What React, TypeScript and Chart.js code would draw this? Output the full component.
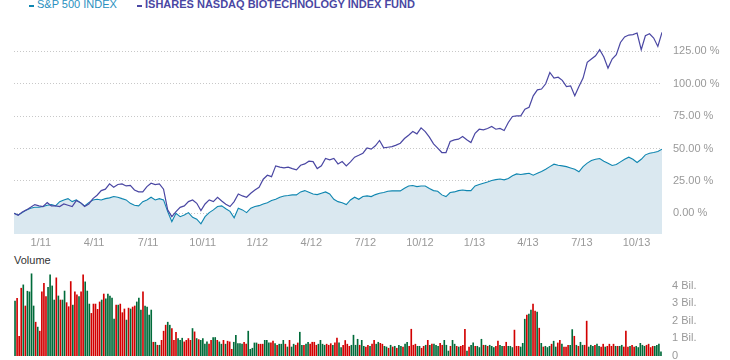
import React, { useEffect, useRef } from "react";
import { Chart, registerables } from "chart.js";
Chart.register(...registerables);

// Weekly samples starting 2010-11-17 (percent change)
const START_DATE = "2010-11-17";
const WEEK_DAYS = 7;

const spx = [
  0, -1.3, 0.5, 2.6, 3.9, 4.6, 4.6, 5.2, 6.2, 6.7,
  5.7, 9, 10.3, 11.3, 9, 10.3, 8.2, 5.7, 8.2, 10.3,
  10.8, 10.3, 11.3, 11.9, 12.9, 12.4, 11.3, 10.3, 7.7, 6.2,
  5.7, 9, 10.3, 12.4, 10.3, 11.3, 10.3, 1.3, -6.4, 0,
  -2.6, -1.3, 0.5, -3.1, -4.6, -8.2, -2.6, 0.5, 2.6, 5.2,
  5.7, 3.5, 1.5, -3.5, 3.9, 2.6, 0.5, 3.9, 5.2, 5.9,
  7.2, 8.2, 9.8, 10.8, 12.4, 13.4, 13.7, 14.2, 14.2, 16.5,
  17.5, 16.2, 14.9, 14.4, 15.5, 16.5, 14.9, 10.8, 9, 8.2,
  6.7, 10.3, 12.4, 10.8, 12.9, 13.4, 12.9, 14.4, 15.5, 16,
  17, 17.3, 17.3, 17.3, 19.3, 21.1, 21.4, 20.6, 21.1, 21.1,
  19.1, 17.5, 17, 14.2, 12.9, 16, 16.5, 17.5, 18, 17.5,
  17.5, 21.1, 22.2, 23.2, 24.2, 25.3, 26, 26.5, 25.8, 26.8,
  28.9, 30.4, 29.9, 30.4, 30.9, 29.4, 30.9, 32.2, 34, 36,
  37.9, 37.1, 36.6, 36, 35, 34, 32, 36, 38.7, 40.7,
  41.7, 42.3, 40.2, 38.7, 36.9, 37.6, 39.7, 41.7, 43.3, 41.7,
  39.2, 41.7, 45.1, 46.4, 46.9, 47.7, 49.5
];

const bio = [
  0, -1.5, 1, 2.6, 4.6, 6.7, 5.7, 5.2, 8.2, 5.7,
  5.7, 5.2, 7.2, 6.2, 5.2, 9.8, 8.2, 5.2, 7.2, 11.3,
  13.9, 17.5, 18.6, 22.7, 20.1, 22.2, 22.7, 21.1, 21.6, 18,
  16.5, 16.5, 20.6, 23.2, 22.2, 22.7, 18.6, 2.6, -2.6, 1.3,
  4.6, 5.7, 9, 10.3, 7.7, 2.1, 7.2, 10.3, 9, 12.4,
  9.5, 7, 5.2, 9, 14.9, 13.4, 12.4, 15.5, 18, 20.1,
  26.3, 29.4, 28.3, 36.6, 35.6, 35, 35.6, 34.5, 33.5, 37.1,
  38.1, 40.2, 39.9, 34.5, 36.6, 42.3, 41.2, 42.3, 38.1, 39.9,
  36.6, 39.7, 43.3, 44.8, 46.4, 50.5, 49.5, 52.1, 56.2, 50.5,
  51, 51.5, 52.6, 54.1, 57.7, 60.3, 63.1, 61.3, 66, 63.1,
  58.8, 53.6, 50.3, 46.9, 46.9, 55.4, 56.7, 57.2, 59.3, 56.7,
  54.6, 61.8, 64.9, 64.4, 65.5, 67, 64.9, 65.5, 63.9, 70.1,
  74.7, 75.2, 75.2, 80.4, 81.9, 90.7, 95.3, 95.9, 100, 108.7,
  104.4, 105.1, 102.6, 97.9, 98.4, 90.7, 97.9, 104.4, 116.5, 119.1,
  121.6, 126.3, 120.6, 112.1, 119.1, 122.4, 131.9, 136.1, 137.6, 137.9,
  139.2, 126.3, 137.1, 138.6, 135.3, 128.8, 139.7
];

// Volume in billions, two bars per week
const volume = [
  3.14, 3.3, 1.14, 3.87, 4.06, 2.86, 3.7, 3.66, 4.69, 2.86,
  1.94, 1.66, 1.43, 3.66, 4.15, 3.39, 3.92, 4.63, 4.0, 3.2,
  4.46, 3.43, 3.2, 3.2, 3.71, 3.05, 2.82, 4.25, 2.91, 3.66,
  3.49, 3.39, 3.66, 4.63, 4.23, 3.71, 2.97, 2.44, 2.97, 2.97,
  2.67, 3.09, 3.2, 3.54, 3.26, 3.54, 3.43, 3.31, 2.11, 2.91,
  2.91, 2.97, 2.48, 2.69, 2.06, 2.74, 2.69, 2.8, 2.86, 3.09,
  3.31, 2.63, 3.66, 2.86, 2.8, 2.34, 2.63, 0.8, 0.8, 0.63,
  0.63, 0.91, 1.43, 1.77, 1.94, 1.77, 1.58, 0.91, 1.37, 1.01,
  0.91, 1.03, 0.82, 0.91, 1.01, 0.91, 1.58, 1.39, 1.01, 0.95,
  0.91, 1.01, 0.69, 0.82, 0.69, 0.91, 1.07, 1.07, 0.91, 0.82,
  0.69, 0.91, 0.69, 0.86, 0.82, 0.4, 0.8, 1.2, 0.72, 0.72,
  0.69, 0.8, 0.69, 1.43, 0.4, 0.46, 0.76, 0.76, 0.69, 0.69,
  0.69, 0.91, 0.91, 0.76, 0.76, 0.86, 0.72, 0.63, 0.69, 0.69,
  0.91, 0.69, 0.53, 0.91, 0.53, 0.69, 0.63, 0.76, 1.37, 0.63,
  0.63, 0.69, 0.8, 0.69, 0.8, 0.8, 0.63, 0.69, 0.91, 0.69,
  0.63, 0.69, 0.63, 0.72, 0.63, 0.76, 1.03, 0.76, 0.5, 0.63,
  0.9, 0.69, 0.57, 0.63, 1.2, 0.63, 0.97, 0.63, 0.91, 0.57,
  0.53, 0.63, 0.57, 0.69, 0.91, 0.69, 0.8, 0.74, 0.69, 0.57,
  0.53, 0.46, 0.63, 0.53, 0.57, 0.46, 0.63, 0.57, 0.53, 0.69,
  0.8, 0.57, 1.54, 0.63, 0.69, 0.57, 0.57, 0.46, 0.57, 0.63,
  0.91, 0.63, 0.69, 0.69, 0.63, 0.57, 0.74, 0.63, 0.91, 0.63,
  0.3, 0.57, 0.91, 0.69, 0.57, 0.53, 0.57, 0.63, 1.54, 0.3,
  0.53, 0.63, 0.76, 0.57, 0.57, 0.5, 0.97, 0.63, 0.63, 0.57,
  0.63, 0.57, 0.5, 0.57, 0.86, 0.63, 0.57, 0.57, 0.8, 0.57,
  0.57, 0.5, 1.49, 0.57, 0.57, 0.53, 0.74, 2.11, 2.34, 2.4,
  2.63, 2.97, 2.57, 2.51, 1.6, 0.74, 0.53, 0.57, 0.5, 0.57,
  0.69, 0.86, 0.53, 0.76, 0.91, 0.69, 0.53, 0.53, 0.63, 0.63,
  1.52, 1.14, 0.63, 0.57, 0.8, 0.63, 0.63, 2.0, 0.53, 0.63,
  0.57, 0.63, 0.69, 0.57, 0.53, 0.69, 0.53, 0.57, 0.69, 0.57,
  0.69, 0.57, 0.57, 0.57, 0.63, 0.53, 1.43, 0.53, 0.57, 0.63,
  0.53, 0.57, 0.5, 0.74, 0.63, 0.57, 0.63, 0.69, 0.5, 0.57,
  0.57, 0.63, 0.69, 0.25
];

// g = up day (green), r = down day (red)
const volumeDir = (
  "grrrgrgggg" + "rgrrrrgggg" + "rgrggrrrgr" + "rgrrgggrrr" + "rrgrgggggr" +
  "grrrgrgrrg" + "ggrggggrgr" + "grrrggrrrg" + "ggrrrrgrgr" + "ggggrrggrg" +
  "grgrrrgggg" + "grrgggggrr" + "rgggrrgrgg" + "grgrggrrgg" + "rggrrrrggg" +
  "grrrgrrggr" + "rrrggggrgg" + "rrgrrggrrg" + "grgrgrggrg" + "grrrrggrrg" +
  "rgrgggrrgg" + "grggrgrrrg" + "rggrgggrgr" + "gggrrggrrg" + "ggrrrgggrg" +
  "grrgrgrggg" + "rggrrgrrrg" + "grgrggrrgg" + "grggrrgrrr" + "rgrggrrrgr" +
  "rggggg" + "rrrr" + "gggg"
).split("");

const tickDates = [
  "2011-01-01", "2011-04-01", "2011-07-01", "2011-10-01",
  "2012-01-01", "2012-04-01", "2012-07-01", "2012-10-01",
  "2013-01-01", "2013-04-01", "2013-07-01", "2013-10-01"
];
const tickLabels = ["1/11", "4/11", "7/11", "10/11", "1/12", "4/12", "7/12", "10/12", "1/13", "4/13", "7/13", "10/13"];

const pctTicks = [0, 25, 50, 75, 100, 125];
const volTicks = [0, 1, 2, 3, 4];
const volTickLabels = ["0", "1 Bil.", "2 Bil.", "3 Bil.", "4 Bil."];

const FONT = 'Arial, "Liberation Sans", Helvetica, sans-serif';
const TEAL = "#0f86b0";
const PURPLE = "#4a47a3";
const FILL = "#dae8f0";
const UP = "#006b3a";
const DOWN = "#d20000";
const DAY = 86400000;

const noEdgePadding = (width: number) => (scale: any) => {
  scale.width = width;
  scale.paddingTop = 0;
  scale.paddingBottom = 0;
};

export default function App() {
  const mainRef = useRef<HTMLCanvasElement>(null);
  const volRef = useRef<HTMLCanvasElement>(null);

  useEffect(() => {
    const start = Date.parse(START_DATE);
    const tickDays = tickDates.map((d) => (Date.parse(d) - start) / DAY);
    const lastDay = (spx.length - 1) * WEEK_DAYS;

    const main = new Chart(mainRef.current!, {
      type: "line",
      data: {
        datasets: [
          {
            label: "ISHARES NASDAQ BIOTECHNOLOGY INDEX FUND",
            data: bio.map((v, i) => ({ x: i * WEEK_DAYS, y: v })),
            borderColor: PURPLE,
            borderWidth: 1.2,
            pointRadius: 0,
            fill: false,
            tension: 0,
          },
          {
            label: "S&P 500 INDEX",
            data: spx.map((v, i) => ({ x: i * WEEK_DAYS, y: v })),
            borderColor: TEAL,
            backgroundColor: FILL,
            borderWidth: 1.1,
            pointRadius: 0,
            fill: "start",
            tension: 0,
          },
        ],
      },
      options: {
        animation: false,
        responsive: false,
        events: [],
        layout: { padding: { left: 14, top: 19, right: 0, bottom: 0 } },
        plugins: { legend: { display: false }, tooltip: { enabled: false } },
        scales: {
          x: {
            type: "linear",
            min: 0,
            max: lastDay,
            grid: { display: false, drawTicks: false },
            border: { display: false },
            afterBuildTicks: (scale: any) => {
              scale.ticks = tickDays.map((v) => ({ value: v }));
            },
            afterFit: (scale: any) => {
              scale.height = 16;
              scale.paddingLeft = 0;
              scale.paddingRight = 0;
            },
            ticks: {
              autoSkip: false,
              maxRotation: 0,
              padding: 2,
              color: "#999999",
              font: { family: FONT, size: 11 },
              callback: (_v: any, idx: number) => tickLabels[idx],
            },
          },
          y: {
            position: "right",
            min: -16,
            max: 150,
            grid: { color: "#c8c8c8", drawTicks: false, lineWidth: 1 },
            border: { display: false, dash: [1, 2] },
            afterBuildTicks: (scale: any) => {
              scale.ticks = pctTicks.map((v) => ({ value: v }));
            },
            afterFit: noEdgePadding(68),
            ticks: {
              padding: 11,
              color: "#999999",
              font: { family: FONT, size: 11 },
              callback: (v: any) => Number(v).toFixed(2) + " %",
            },
          },
        },
      },
    });

    const vol = new Chart(volRef.current!, {
      type: "bar",
      data: {
        labels: volume.map((_, i) => String(i)),
        datasets: [
          {
            label: "Volume",
            data: volume,
            backgroundColor: volumeDir.map((d) => (d === "g" ? UP : DOWN)),
            categoryPercentage: 1,
            barPercentage: 0.8,
          },
        ],
      },
      options: {
        animation: false,
        responsive: false,
        events: [],
        layout: { padding: { left: 14, top: 6, right: 0, bottom: 4 } },
        plugins: { legend: { display: false }, tooltip: { enabled: false } },
        scales: {
          x: { display: false, offset: true },
          y: {
            position: "right",
            min: 0,
            max: 5,
            grid: { display: false, drawTicks: false },
            border: { display: false },
            afterBuildTicks: (scale: any) => {
              scale.ticks = volTicks.map((v) => ({ value: v }));
            },
            afterFit: noEdgePadding(68),
            ticks: {
              padding: 10,
              color: "#999999",
              font: { family: FONT, size: 11 },
              callback: (_v: any, idx: number) => volTickLabels[idx],
            },
          },
        },
      },
    });

    return () => {
      main.destroy();
      vol.destroy();
    };
  }, []);

  const legendText: React.CSSProperties = {
    position: "absolute",
    top: -1,
    fontFamily: FONT,
    fontSize: 11,
    lineHeight: "11px",
    whiteSpace: "nowrap",
  };

  return (
    <div style={{ position: "absolute", left: 0, top: 0, width: 730, height: 360, background: "#fff", overflow: "hidden" }}>
      <div style={{ position: "absolute", left: 29, top: 5, width: 5, height: 2, background: TEAL }} />
      <div style={{ ...legendText, left: 37, color: "#2a90c0" }}>S&amp;P 500 INDEX</div>
      <div style={{ position: "absolute", left: 137, top: 5, width: 5, height: 2, background: PURPLE }} />
      <div style={{ ...legendText, left: 145, color: PURPLE, fontWeight: "bold" }}>ISHARES NASDAQ BIOTECHNOLOGY INDEX FUND</div>
      <canvas ref={mainRef} width={730} height={250} style={{ position: "absolute", left: 0, top: 0, width: 730, height: 250 }} />
      <div style={{ position: "absolute", left: 14, top: 254, fontFamily: FONT, fontSize: 11, lineHeight: "13px", color: "#333" }}>Volume</div>
      <canvas ref={volRef} width={730} height={98} style={{ position: "absolute", left: 0, top: 262, width: 730, height: 98 }} />
    </div>
  );
}
